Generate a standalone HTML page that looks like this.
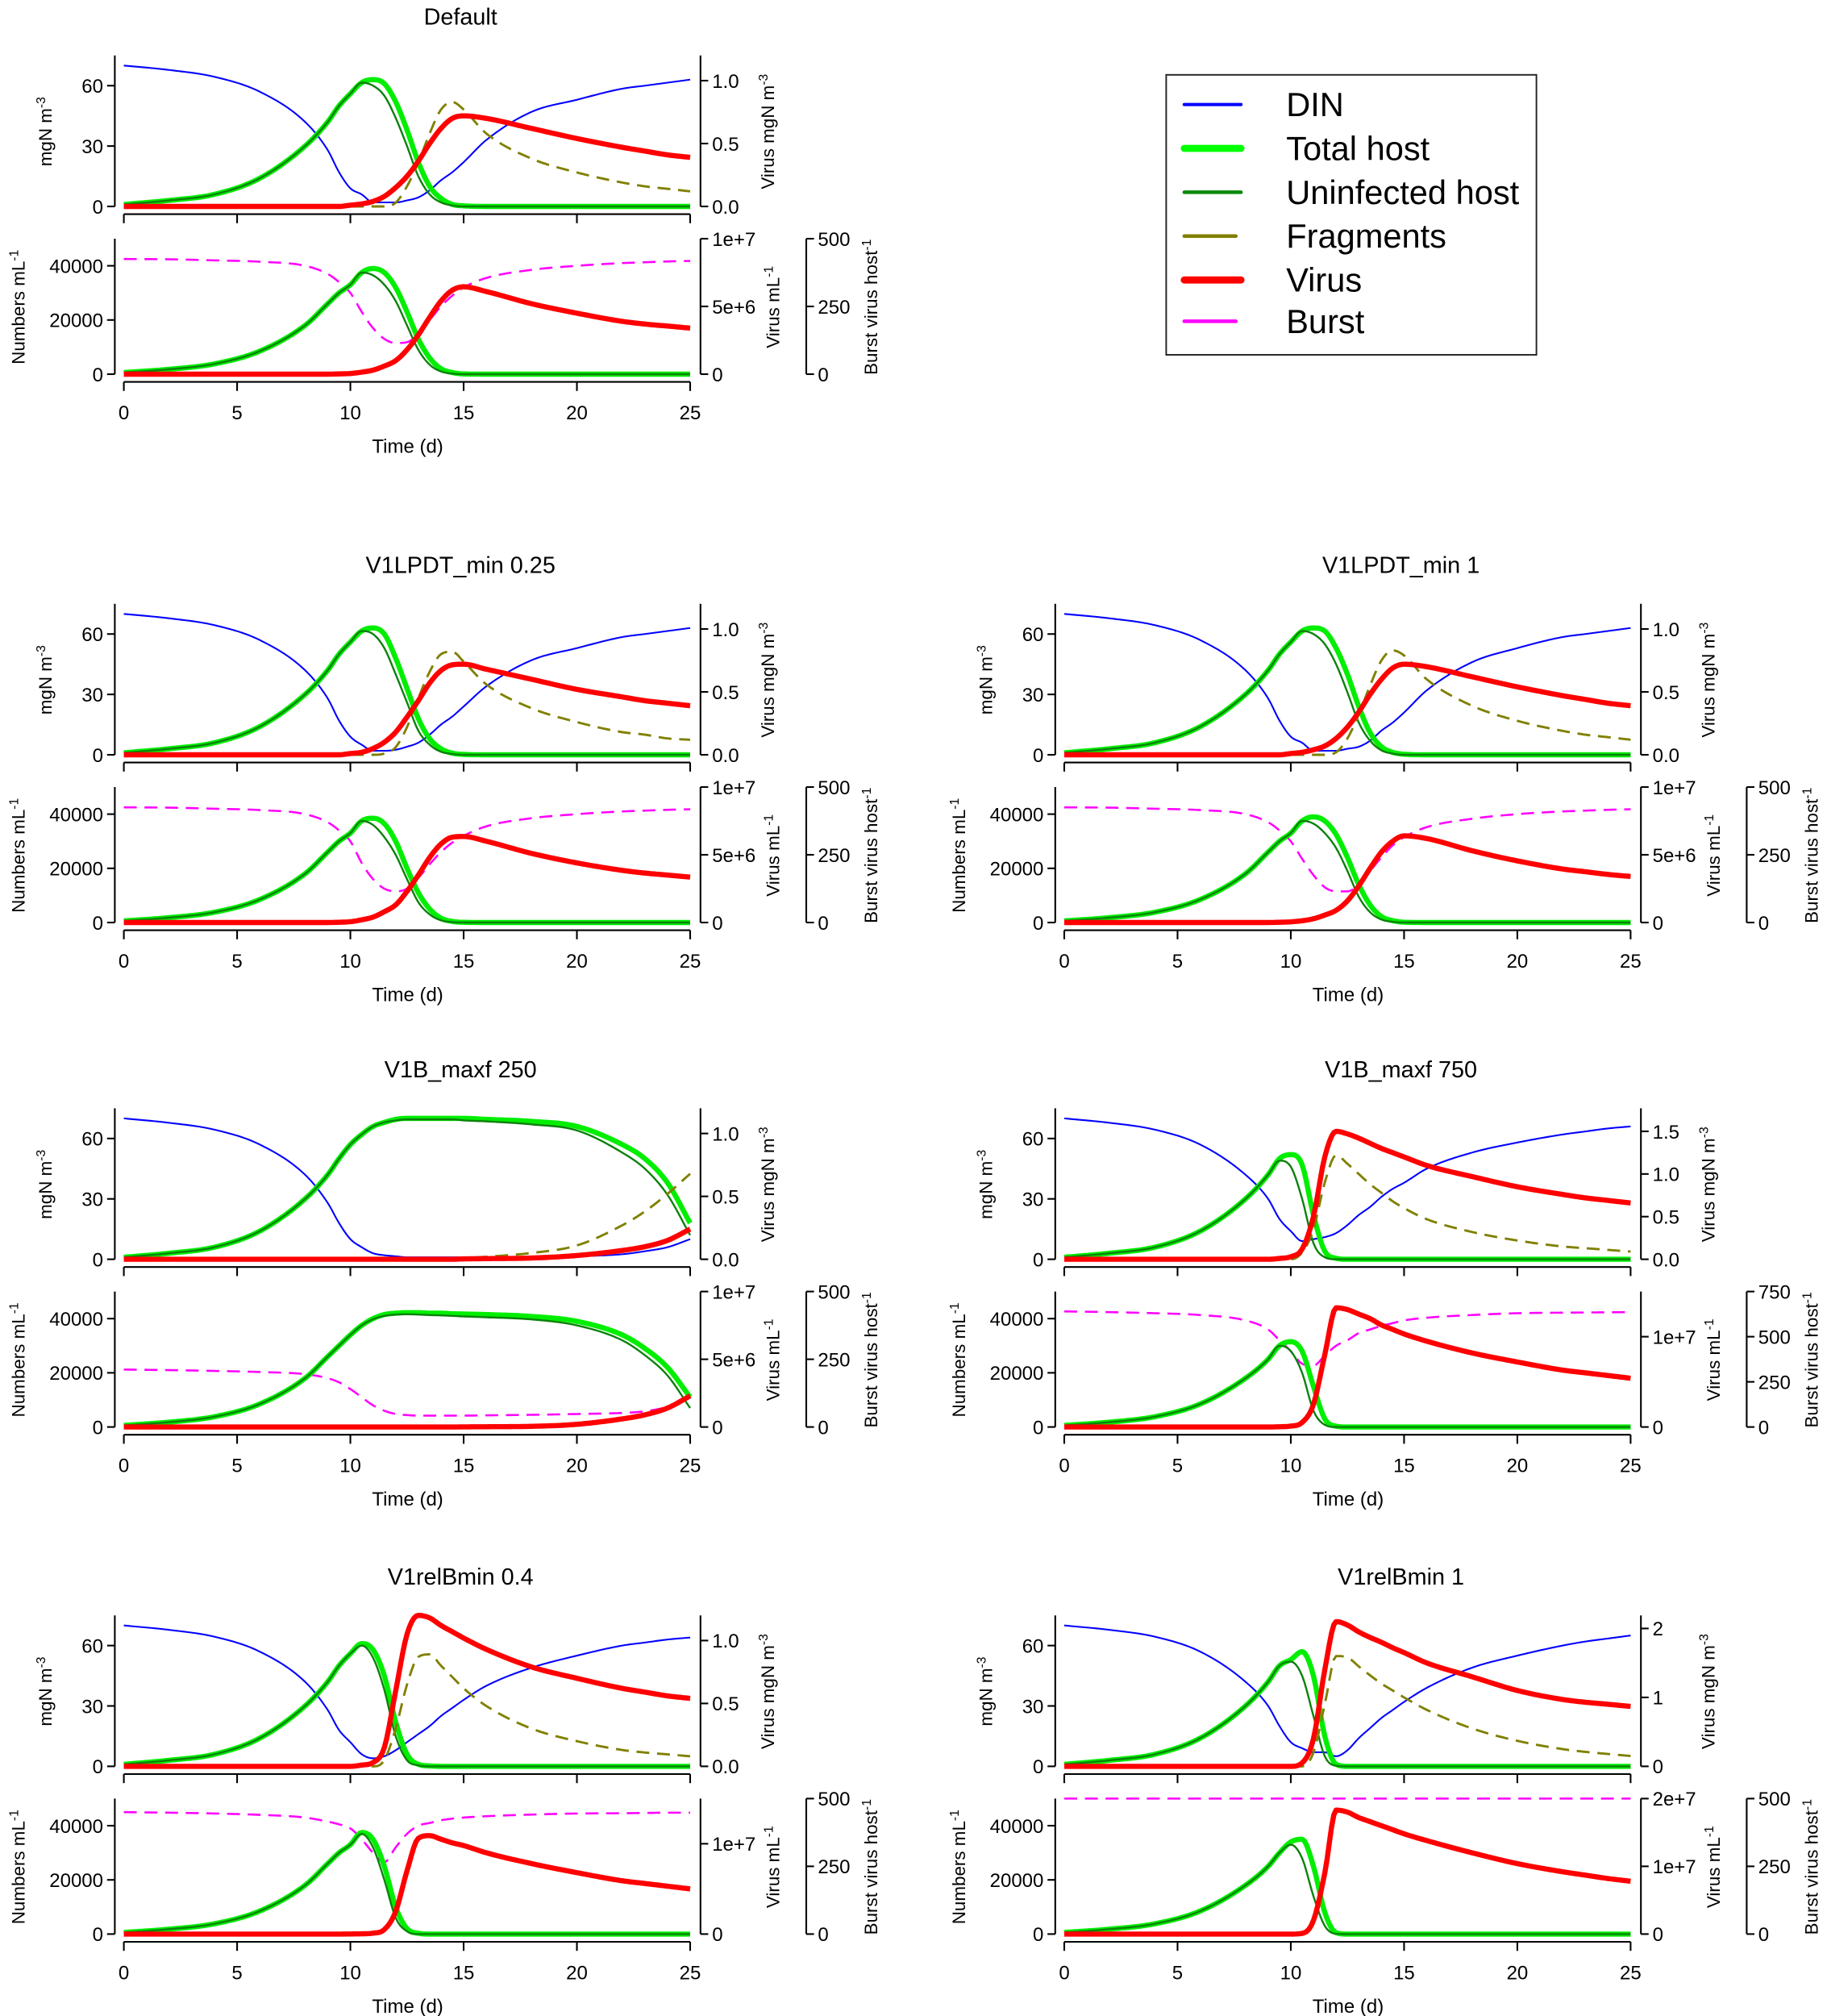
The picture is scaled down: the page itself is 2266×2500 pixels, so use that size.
<!DOCTYPE html>
<html><head><meta charset="utf-8"><title>Virus-host model scenarios</title>
<style>
html,body{margin:0;padding:0;background:#fff;}
svg{display:block;}
text{font-family:"Liberation Sans Narrow","Liberation Sans",sans-serif;fill:#000;}
.lg{font-family:"Liberation Sans",sans-serif;}
</style></head>
<body>
<svg id="fig" xmlns="http://www.w3.org/2000/svg" width="2266" height="2500" viewBox="0 0 1416.25 1562.5">
<rect x="0" y="0" width="1416.25" height="1562.5" fill="#fff"/>
<g>
<rect x="904" y="58" width="287" height="217" fill="none" stroke="#222" stroke-width="1.2"/>
<line x1="918" y1="81" x2="962" y2="81" stroke="#0000ff" stroke-width="2.5" stroke-linecap="round"/>
<text class="lg" x="997" y="90" font-size="26">DIN</text>
<line x1="918" y1="115" x2="962" y2="115" stroke="#00ff00" stroke-width="5.5" stroke-linecap="round"/>
<text class="lg" x="997" y="124" font-size="26">Total host</text>
<line x1="918" y1="149" x2="962" y2="149" stroke="#0a8a0a" stroke-width="2.8" stroke-linecap="round"/>
<text class="lg" x="997" y="158" font-size="26">Uninfected host</text>
<line x1="918" y1="183" x2="958" y2="183" stroke="#808000" stroke-width="2.8" stroke-linecap="round"/>
<text class="lg" x="997" y="192" font-size="26">Fragments</text>
<line x1="918" y1="217" x2="962" y2="217" stroke="#ff0000" stroke-width="5.5" stroke-linecap="round"/>
<text class="lg" x="997" y="226" font-size="26">Virus</text>
<line x1="918" y1="249" x2="958" y2="249" stroke="#ff00ff" stroke-width="2.8" stroke-linecap="round"/>
<text class="lg" x="997" y="258" font-size="26">Burst</text>
</g>
</svg>
<script>
// Time grid (days)
const T=[0,2,4,6,8,9,9.5,10,10.5,11,11.5,12,12.5,13,13.5,14,14.5,15,16,18,20,22,23,24,25];
const xTicks=[0,5,10,15,20,25];
const xTickLabels=['0','5','10','15','20','25'];
const leftTopTicks=[0,30,60];
const leftBotTicks=[0,20000,40000];

// ---- Default ----
const defDin=[70,67.8,64.4,57,42,28,17,9,6,2,2,2,3,4.5,8,13,17,22,33,47,53,58.5,60,61.5,63];
const defHost=[1,3,6,14,30,42,50,56,61.5,63,61,52,38,22,10,4,1,0.3,0,0,0,0,0,0,0];
const defUninf=[1,3,6,14,30,42,50,56,61.5,60,55,44,30,15,6,2,0.5,0,0,0,0,0,0,0,0];
const defFrag=[0,0,0,0,0,0,0,0,0,0,0,0.03,0.16,0.35,0.58,0.77,0.83,0.77,0.58,0.38,0.27,0.19,0.16,0.14,0.12];
const defVirus=[0,0,0,0,0,0,0,0.01,0.02,0.04,0.08,0.15,0.24,0.36,0.5,0.62,0.7,0.72,0.7,0.62,0.54,0.47,0.44,0.41,0.39];
const defBurst=[425,424,420,415,400,370,340,300,230,170,130,115,118,150,200,250,290,320,355,385,400,410,413,416,418];
const defHostN=[600,1800,3800,8500,18000,26000,30000,33000,37500,39000,37500,32000,23000,13000,6000,2000,600,100,0,0,0,0,0,0,0];
const defUninfN=[600,1800,3800,8500,18000,26000,30000,33000,37500,36500,33000,27000,18000,9000,3500,1000,200,0,0,0,0,0,0,0,0];
const defVirusN=[0,0,0,0,0,0,0.02,0.05,0.15,0.3,0.6,1,1.8,2.9,4.2,5.4,6.2,6.45,6.1,5.2,4.5,3.9,3.7,3.55,3.4];

// ---- V1LPDT_min 0.25 ----
const lp25Din=[70,67.8,64.4,57,42,28,17,9,5,2,2,2.5,4,6,10,15,19,24,34,47,53,58.5,60,61.5,63];
const lp25Host=[1,3,6,14,30,42,50,56,61.5,63,60,48,33,18,8,3,0.8,0.2,0,0,0,0,0,0,0];
const lp25Uninf=[1,3,6,14,30,42,50,56,61.5,60,53,40,26,12,5,1.5,0.4,0,0,0,0,0,0,0,0];
const lp25Frag=[0,0,0,0,0,0,0,0,0,0,0.01,0.06,0.22,0.45,0.66,0.8,0.82,0.74,0.56,0.37,0.26,0.18,0.16,0.13,0.12];
const lp25Virus=[0,0,0,0,0,0,0,0.01,0.02,0.05,0.1,0.18,0.3,0.43,0.57,0.67,0.715,0.72,0.68,0.6,0.52,0.46,0.43,0.41,0.39];
const lp25Burst=[425,424,420,415,400,370,340,300,220,160,125,115,125,165,215,260,295,320,355,385,400,410,413,416,418];
const lp25HostN=[600,1800,3800,8500,18000,26000,30000,33000,37500,38500,36500,30000,20000,11000,5000,1600,400,80,0,0,0,0,0,0,0];
const lp25UninfN=[600,1800,3800,8500,18000,26000,30000,33000,37500,36000,31500,25000,16000,7500,3000,800,150,0,0,0,0,0,0,0,0];
const lp25VirusN=[0,0,0,0,0,0,0.02,0.06,0.2,0.4,0.8,1.3,2.3,3.5,4.8,5.8,6.3,6.35,6.0,5.1,4.4,3.85,3.65,3.5,3.35];

// ---- V1LPDT_min 1 ----
const lp1Din=[70,67.8,64.4,57,42,28,17,9,6,2,2,2,3,4,7,12,16,21,32,46,53,58.5,60,61.5,63];
const lp1Host=[1,3,6,14,30,42,50,56,61.5,63,61.5,53,40,24,11,4,1.2,0.3,0,0,0,0,0,0,0];
const lp1Uninf=[1,3,6,14,30,42,50,56,61.5,60,55,45,31,16,7,2.2,0.6,0,0,0,0,0,0,0,0];
const lp1Frag=[0,0,0,0,0,0,0,0,0,0,0,0.02,0.13,0.32,0.55,0.75,0.83,0.79,0.6,0.39,0.27,0.19,0.16,0.14,0.12];
const lp1Virus=[0,0,0,0,0,0,0,0.01,0.02,0.04,0.07,0.13,0.22,0.34,0.48,0.6,0.69,0.72,0.7,0.62,0.54,0.47,0.44,0.41,0.39];
const lp1Burst=[425,424,420,415,400,370,340,300,235,175,130,115,115,140,190,240,285,315,352,383,400,410,413,416,418];
const lp1HostN=[600,1800,3800,8500,18000,26000,30000,33000,37500,39000,37500,32500,24000,14000,6500,2200,700,120,0,0,0,0,0,0,0];
const lp1UninfN=[600,1800,3800,8500,18000,26000,30000,33000,37500,36500,33000,27500,19000,9500,3800,1100,250,0,0,0,0,0,0,0,0];
const lp1VirusN=[0,0,0,0,0,0,0.02,0.05,0.13,0.28,0.55,0.9,1.6,2.7,4.0,5.2,6.0,6.4,6.2,5.3,4.55,3.95,3.75,3.55,3.4];

// ---- V1B_maxf 250 ----
const b250Din=[70,67.8,64.4,57,42,28,18,10,6,3,2,1.5,1,1,1,1,1,1,1,1,1.5,2.5,4,6,10];
const b250Host=[1,3,6,14,30,42,50,57,62,66,68,69.5,70,70,70,70,70,70,69.5,68.5,66,57,50,38,18];
const b250Uninf=[1,3,6,14,30,42,50,57,62,66,68,69,69.5,69.5,69.5,69.5,69.5,69,68.5,67,64,53,45,32,12];
const b250Frag=[0,0,0,0,0,0,0,0,0,0,0,0,0,0,0,0,0,0.01,0.02,0.05,0.11,0.27,0.38,0.52,0.68];
const b250Virus=[0,0,0,0,0,0,0,0,0,0,0,0,0,0,0,0,0,0.003,0.005,0.01,0.03,0.07,0.1,0.15,0.24];
const b250Burst=[212,210,207,203,195,180,165,140,110,80,60,48,44,42,42,42,42,42,43,45,48,52,58,75,112];
const b250HostN=[600,1800,3800,8500,18000,26000,30000,34000,37500,40000,41500,42000,42200,42200,42000,42000,41800,41700,41500,40800,39000,34000,29000,22000,11000];
const b250UninfN=[600,1800,3800,8500,18000,26000,30000,34000,37500,39800,41000,41500,41600,41500,41300,41200,41000,40800,40500,39700,37500,32000,26500,19000,7000];
const b250VirusN=[0,0,0,0,0,0,0,0,0,0,0,0,0,0,0,0,0,0.01,0.02,0.05,0.2,0.6,0.9,1.4,2.3];

// ---- V1B_maxf 750 ----
const b750Din=[70,67.8,64.4,57,42,30,20,14,9,10,11,13,17,22,26,31,35,38,45,53,58,62,63.5,65,66];
const b750Host=[1,3,6,14,30,42,50,52,47,22,4,0.5,0,0,0,0,0,0,0,0,0,0,0,0,0];
const b750Uninf=[1,3,6,14,30,42,49,46,30,8,1,0,0,0,0,0,0,0,0,0,0,0,0,0,0];
const b750Frag=[0,0,0,0,0,0,0,0,0.08,0.35,0.9,1.22,1.12,1.0,0.88,0.78,0.68,0.6,0.47,0.32,0.22,0.15,0.13,0.11,0.09];
const b750Virus=[0,0,0,0,0,0,0.01,0.03,0.12,0.5,1.2,1.5,1.47,1.42,1.36,1.3,1.25,1.2,1.1,0.97,0.85,0.76,0.72,0.69,0.66];
const b750Burst=[640,636,630,620,590,540,480,420,350,340,395,450,480,520,540,560,575,590,605,620,630,633,634,635,636];
const b750HostN=[600,1800,3800,8500,18000,25000,30000,31500,28000,15000,3000,300,0,0,0,0,0,0,0,0,0,0,0,0,0];
const b750UninfN=[600,1800,3800,8500,18000,25000,30000,28000,20000,6000,800,0,0,0,0,0,0,0,0,0,0,0,0,0,0];
const b750VirusN=[0,0,0,0,0,0,0.03,0.1,0.5,2.5,8,13.2,13,12.5,12,11.3,10.8,10.3,9.5,8.2,7.2,6.3,6,5.7,5.4];

// ---- V1relBmin 0.4 ----
const r04Din=[70,67.8,64.4,57,42,28,18,12,6,4,5,8,12,16,20,25,29,33,40,49,55,60,61.5,63,64];
const r04Host=[1,3,6,14,30,42,50,56,61,58,45,22,6,1,0.2,0,0,0,0,0,0,0,0,0,0];
const r04Uninf=[1,3,6,14,30,42,50,56,60,54,38,15,3,0.5,0,0,0,0,0,0,0,0,0,0,0];
const r04Frag=[0,0,0,0,0,0,0,0,0,0,0.05,0.3,0.65,0.87,0.89,0.8,0.71,0.62,0.48,0.3,0.2,0.13,0.11,0.095,0.08];
const r04Virus=[0,0,0,0,0,0,0,0,0.01,0.03,0.15,0.6,1.05,1.2,1.18,1.12,1.07,1.02,0.93,0.79,0.7,0.62,0.59,0.56,0.54];
const r04Burst=[450,448,445,440,430,415,405,390,350,300,265,320,370,400,410,420,426,430,435,441,445,446,447,448,448];
const r04HostN=[600,1800,3800,8500,18000,26000,30000,33000,37500,35000,25000,10000,2000,300,0,0,0,0,0,0,0,0,0,0,0];
const r04UninfN=[600,1800,3800,8500,18000,26000,30000,33000,37000,32000,20000,6000,1000,0,0,0,0,0,0,0,0,0,0,0,0];
const r04VirusN=[0,0,0,0,0,0,0,0.01,0.03,0.1,0.5,2.5,7,10.6,10.9,10.5,10.1,9.8,9.0,7.8,6.8,5.9,5.6,5.3,5.0];

// ---- V1relBmin 1 ----
const r1Din=[70,67.8,64.4,57,42,30,20,12,9,7,7,5,8,14,19,24,28,32,39,49,55,60,62,63.5,65];
const r1Host=[1,3,6,14,30,42,50,53,57,45,15,1,0,0,0,0,0,0,0,0,0,0,0,0,0];
const r1Uninf=[1,3,6,14,30,42,50,52,45,25,5,0.3,0,0,0,0,0,0,0,0,0,0,0,0,0];
const r1Frag=[0,0,0,0,0,0,0,0,0,0.2,0.9,1.6,1.58,1.45,1.32,1.2,1.1,1.0,0.82,0.55,0.37,0.25,0.21,0.18,0.15];
const r1Virus=[0,0,0,0,0,0,0,0,0.05,0.4,1.4,2.1,2.05,1.95,1.87,1.8,1.72,1.65,1.5,1.3,1.1,0.97,0.93,0.9,0.87];
const r1Burst=[500,500,500,500,500,500,500,500,500,500,500,500,500,500,500,500,500,500,500,500,500,500,500,500,500];
const r1HostN=[600,1800,3800,8500,18000,25000,30000,34000,35000,25000,8000,500,0,0,0,0,0,0,0,0,0,0,0,0,0];
const r1UninfN=[600,1800,3800,8500,18000,25000,30000,33000,28000,14000,3000,100,0,0,0,0,0,0,0,0,0,0,0,0,0];
const r1VirusN=[0,0,0,0,0,0,0,0,0.1,2,9,18.3,18,17.2,16.6,16,15.4,14.8,13.8,12,10.4,9.2,8.7,8.2,7.8];

// Axis tick label arrays
const rTopTicksA=[0,0.5,1.0]; const rTopLabelsA=['0.0','0.5','1.0'];
const rTopTicksB=[0,0.5,1.0,1.5]; const rTopLabelsB=['0.0','0.5','1.0','1.5'];
const rTopTicksC=[0,1,2]; const rTopLabelsC=['0','1','2'];
const vTicksA=[0,5,10]; const vLabelsA=['0','5e+6','1e+7'];
const vTicksB=[0,10]; const vLabelsB=['0','1e+7'];
const vTicksC=[0,10,20]; const vLabelsC=['0','1e+7','2e+7'];
const bTicksA=[0,250,500]; const bTicksB=[0,250,500,750];

const panels=[
 {id:'default',title:'Default',col:0,row:0,din:defDin,host:defHost,uninf:defUninf,frag:defFrag,virus:defVirus,burst:defBurst,hostN:defHostN,uninfN:defUninfN,virusN:defVirusN,rTop:1.2,rTicks:rTopTicksA,rLabels:rTopLabelsA,vMax:10,vTicks:vTicksA,vLabels:vLabelsA,bMax:500,bTicks:bTicksA},
 {id:'lpdt-025',title:'V1LPDT_min 0.25',col:0,row:1,din:lp25Din,host:lp25Host,uninf:lp25Uninf,frag:lp25Frag,virus:lp25Virus,burst:lp25Burst,hostN:lp25HostN,uninfN:lp25UninfN,virusN:lp25VirusN,rTop:1.2,rTicks:rTopTicksA,rLabels:rTopLabelsA,vMax:10,vTicks:vTicksA,vLabels:vLabelsA,bMax:500,bTicks:bTicksA},
 {id:'lpdt-1',title:'V1LPDT_min 1',col:1,row:1,din:lp1Din,host:lp1Host,uninf:lp1Uninf,frag:lp1Frag,virus:lp1Virus,burst:lp1Burst,hostN:lp1HostN,uninfN:lp1UninfN,virusN:lp1VirusN,rTop:1.2,rTicks:rTopTicksA,rLabels:rTopLabelsA,vMax:10,vTicks:vTicksA,vLabels:vLabelsA,bMax:500,bTicks:bTicksA},
 {id:'maxf-250',title:'V1B_maxf 250',col:0,row:2,din:b250Din,host:b250Host,uninf:b250Uninf,frag:b250Frag,virus:b250Virus,burst:b250Burst,hostN:b250HostN,uninfN:b250UninfN,virusN:b250VirusN,rTop:1.2,rTicks:rTopTicksA,rLabels:rTopLabelsA,vMax:10,vTicks:vTicksA,vLabels:vLabelsA,bMax:500,bTicks:bTicksA},
 {id:'maxf-750',title:'V1B_maxf 750',col:1,row:2,din:b750Din,host:b750Host,uninf:b750Uninf,frag:b750Frag,virus:b750Virus,burst:b750Burst,hostN:b750HostN,uninfN:b750UninfN,virusN:b750VirusN,rTop:1.77,rTicks:rTopTicksB,rLabels:rTopLabelsB,vMax:15,vTicks:vTicksB,vLabels:vLabelsB,bMax:750,bTicks:bTicksB},
 {id:'relbmin-04',title:'V1relBmin 0.4',col:0,row:3,din:r04Din,host:r04Host,uninf:r04Uninf,frag:r04Frag,virus:r04Virus,burst:r04Burst,hostN:r04HostN,uninfN:r04UninfN,virusN:r04VirusN,rTop:1.2,rTicks:rTopTicksA,rLabels:rTopLabelsA,vMax:15,vTicks:vTicksB,vLabels:vLabelsB,bMax:500,bTicks:bTicksA},
 {id:'relbmin-1',title:'V1relBmin 1',col:1,row:3,din:r1Din,host:r1Host,uninf:r1Uninf,frag:r1Frag,virus:r1Virus,burst:r1Burst,hostN:r1HostN,uninfN:r1UninfN,virusN:r1VirusN,rTop:2.19,rTicks:rTopTicksC,rLabels:rTopLabelsC,vMax:20,vTicks:vTicksC,vLabels:vLabelsC,bMax:500,bTicks:bTicksA}
];

const NS='http://www.w3.org/2000/svg';
const svg=document.getElementById('fig');
const colX=[96,825];
const rowY=[160,585,976,1369];
const W=439, HT=117, HB=105, BOT=130;

function mk(tag,attrs,parent){const e=document.createElementNS(NS,tag);for(const k in attrs)e.setAttribute(k,attrs[k]);parent.appendChild(e);return e;}

function monotone(xs,ys){
 const n=xs.length,d=[],m=[];
 for(let i=0;i<n-1;i++)d.push((ys[i+1]-ys[i])/(xs[i+1]-xs[i]));
 m[0]=d[0];m[n-1]=d[n-2];
 for(let i=1;i<n-1;i++){m[i]=(d[i-1]*d[i]<=0)?0:(d[i-1]+d[i])/2;}
 for(let i=0;i<n-1;i++){if(d[i]===0){m[i]=0;m[i+1]=0;continue;}const a=m[i]/d[i],b=m[i+1]/d[i],s=a*a+b*b;if(s>9){const t=3/Math.sqrt(s);m[i]=t*a*d[i];m[i+1]=t*b*d[i];}}
 return function(x){let i=0;while(i<n-2&&x>xs[i+1])i++;const h=xs[i+1]-xs[i],t=(x-xs[i])/h,t2=t*t,t3=t2*t;
  return (2*t3-3*t2+1)*ys[i]+(t3-2*t2+t)*h*m[i]+(-2*t3+3*t2)*ys[i+1]+(t3-t2)*h*m[i+1];};
}

function series(g,vals,sx,sy,stroke,width,dash,name){
 const f=monotone(T,vals);let d='';
 for(let k=0;k<=250;k++){const t=k/10;const x=sx(t),y=sy(f(t));d+=(k?'L':'M')+x.toFixed(2)+','+y.toFixed(2);}
 const p=mk('path',{d:d,fill:'none',stroke:stroke,'stroke-width':width,'stroke-linejoin':'round'},g);
 if(dash)p.setAttribute('stroke-dasharray',dash);
 
 
}

function txt(g,x,y,s,size,anchor,name,rot){
 const t=mk('text',{x:x,y:y,'font-size':size,'text-anchor':anchor||'start'},g);
 if(rot)t.setAttribute('transform','rotate(-90 '+x+' '+y+')');
 t.textContent=s;
 
 
 return t;
}
function supTxt(g,x,y,main,sup,size,name){
 const t=mk('text',{x:x,y:y,'font-size':size,'text-anchor':'middle',transform:'rotate(-90 '+x+' '+y+')'},g);
 t.setAttribute('class','lg');
 const a=mk('tspan',{},t);a.textContent=main;
 const b=mk('tspan',{'baseline-shift':'super','font-size':size*0.7},t);b.textContent=sup;
 
 
}
function vline(g,x,y1,y2,name){const l=mk('line',{x1:x,y1:y1,x2:x,y2:y2,stroke:'#000','stroke-width':1.3},g);}
function hline(g,x1,x2,y,name){const l=mk('line',{x1:x1,y1:y,x2:x2,y2:y,stroke:'#000','stroke-width':1.3},g);}

panels.forEach(P=>{
 const x0=colX[P.col], y0=rowY[P.row], yb=y0+BOT;
 const g=mk('g',{},svg);
 
 
 const sx=t=>x0+t/25*W;
 const syL=v=>y0-v/75*HT;
 const syR=v=>y0-v/P.rTop*HT;
 const syBL=v=>yb-v/50000*HB;
 const syBV=v=>yb-v/P.vMax*HB;
 const syBB=v=>yb-v/P.bMax*HB;
 const xL=x0-7, xR=x0+W+8, xB=x0+W+90;
 txt(g,x0+261,y0-141,P.title,18,'middle','panel-title');
 vline(g,xL,y0-HT,y0,'top-left-axis');
 leftTopTicks.forEach(v=>{hline(g,xL-6,xL,syL(v),'top-left-tick');txt(g,xL-9,syL(v)+5.5,String(v),15,'end','top-left-tick-label');});
 vline(g,xR,y0-HT,y0,'top-right-axis');
 P.rTicks.forEach((v,i)=>{hline(g,xR,xR+6,syR(v),'top-right-tick');txt(g,xR+9,syR(v)+5.5,P.rLabels[i],15,'start','top-right-tick-label');});
 hline(g,x0,x0+W,y0+6,'top-x-axis');
 xTicks.forEach(v=>{vline(g,sx(v),y0+6,y0+13,'top-x-tick');});
 supTxt(g,x0-56,y0-58,'mgN m','-3',14,'top-left-axis-title');
 supTxt(g,xR+57,y0-58,'Virus mgN m','-3',14,'top-right-axis-title');
 series(g,P.din,sx,syL,'#0000ff',1.3,null,'din-line');
 series(g,P.host,sx,syL,'#00ee00',4,null,'total-host-line');
 series(g,P.uninf,sx,syL,'#0b820b',1.5,null,'uninfected-host-line');
 series(g,P.frag,sx,syR,'#808000',1.8,'10,6','fragments-line');
 series(g,P.virus,sx,syR,'#ff0000',4,null,'virus-line');
 vline(g,xL,yb-HB,yb,'bottom-left-axis');
 leftBotTicks.forEach(v=>{hline(g,xL-6,xL,syBL(v),'bottom-left-tick');txt(g,xL-9,syBL(v)+5.5,String(v),15,'end','bottom-left-tick-label');});
 vline(g,xR,yb-HB,yb,'virus-count-axis');
 P.vTicks.forEach((v,i)=>{hline(g,xR,xR+6,syBV(v),'virus-count-tick');txt(g,xR+9,syBV(v)+5.5,P.vLabels[i],15,'start','virus-count-tick-label');});
 vline(g,xB,yb-HB,yb,'burst-axis');
 P.bTicks.forEach(v=>{hline(g,xB,xB+6,syBB(v),'burst-tick');txt(g,xB+9,syBB(v)+5.5,String(v),15,'start','burst-tick-label');});
 hline(g,x0,x0+W,yb+6,'bottom-x-axis');
 xTicks.forEach((v,i)=>{vline(g,sx(v),yb+6,yb+13,'bottom-x-tick');txt(g,sx(v),yb+35,xTickLabels[i],15,'middle','x-tick-label');});
 txt(g,x0+220,yb+61,'Time (d)',15,'middle','x-axis-title');
 supTxt(g,x0-77,yb-52,'Numbers mL','-1',14,'bottom-left-axis-title');
 supTxt(g,xR+61,yb-52,'Virus mL','-1',14,'virus-count-axis-title');
 supTxt(g,xB+55,yb-52,'Burst virus host','-1',14,'burst-axis-title');
 series(g,P.burst,sx,syBB,'#ff00ff',1.6,'10,6','burst-line');
 series(g,P.hostN,sx,syBL,'#00ee00',4,null,'total-host-count-line');
 series(g,P.uninfN,sx,syBL,'#0b820b',1.5,null,'uninfected-host-count-line');
 series(g,P.virusN,sx,syBV,'#ff0000',4,null,'virus-count-line');
});
</script>
</body></html>
